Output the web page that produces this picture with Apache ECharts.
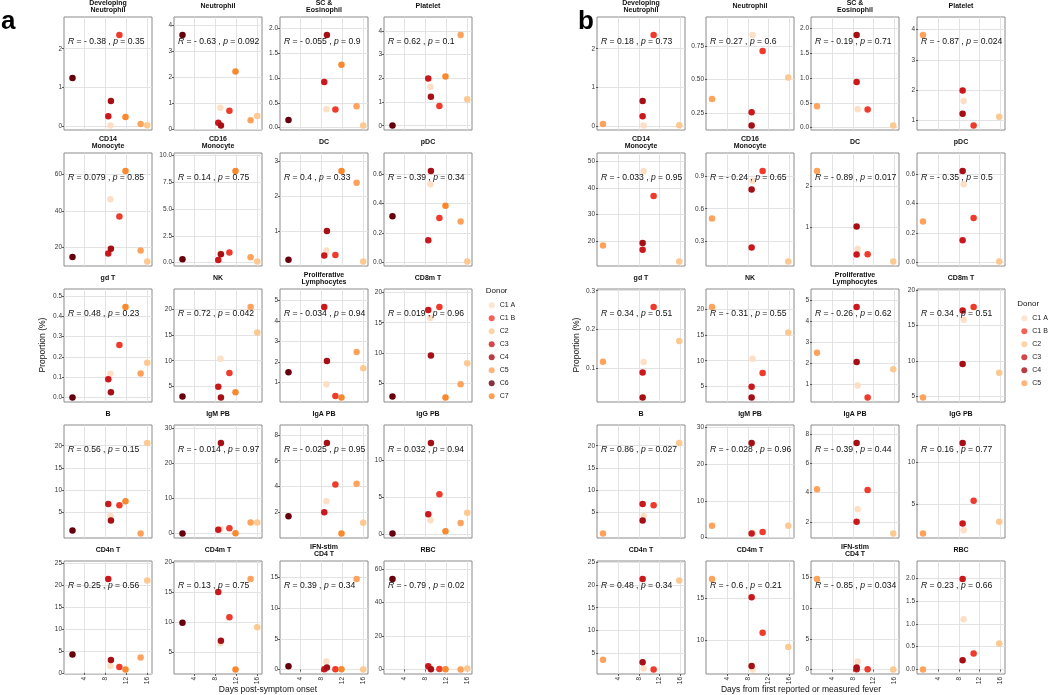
<!DOCTYPE html>
<html><head><meta charset="utf-8">
<script src="https://cdn.jsdelivr.net/npm/echarts@6/dist/echarts.min.js"></script>
<style>html,body{margin:0;padding:0;background:#fff}#c{width:1050px;height:695px}</style>
</head><body><div id="c"></div>
<script>
// ---------- data ----------
const donors = ['C1 A','C1 B','C2','C3','C4','C5','C6','C7'];
const donorColors = ['#FDDFC6','#EF3B2C','#FDC991','#CB181D','#A50F15','#FDA35E','#67000D','#F8892F'];
// x values: days post-symptom onset (panel a, all 8 donors) / days from first fever (panel b, C1 A..C5)
const daysOnset = [9.0, 10.7, 15.95, 8.6, 9.1, 14.7, 1.85, 11.85];
const daysFever = [8.9, 10.85, 15.85, 8.7, 8.7, 0.97];
const dayTicks = [4, 8, 12, 16];
const cellTypes = ['Developing\nNeutrophil','Neutrophil','SC &\nEosinophil','Platelet',
  'CD14\nMonocyte','CD16\nMonocyte','DC','pDC',
  'gd T','NK','Proliferative\nLymphocytes','CD8m T',
  'B','IgM PB','IgA PB','IgG PB',
  'CD4n T','CD4m T','IFN-stim\nCD4 T','RBC'];
// proportion (%), donors ordered C1 A, C1 B, C2, C3, C4, C5, C6, C7
const devNeut   = [0.03, 2.35, 0.035, 0.27, 0.66, 0.065, 1.25, 0.25];
const neutro    = [0.835, 0.715, 0.515, 0.255, 0.155, 0.355, 3.62, 2.22];
const scEos     = [0.37, 0.365, 0.04, 0.92, 1.87, 0.43, 0.15, 1.27];
const platelet  = [1.64, 0.83, 1.12, 1.99, 1.22, 3.82, 0.01, 2.07];
const cd14Mono  = [46.3, 36.9, 12.2, 16.6, 19.2, 18.2, 14.7, 61.8];
const cd16Mono  = [0.86, 0.95, 0.11, 0.24, 0.78, 0.51, 0.31, 8.52];
const dc        = [0.46, 0.33, 0.15, 0.32, 1.01, 2.38, 0.2, 2.71];
const pdc       = [0.53, 0.30, 0.005, 0.15, 0.62, 0.277, 0.312, 0.384];
const gdT       = [0.117, 0.258, 0.171, 0.09, 0.026, 0.118, 0.0, 0.445];
const nk        = [10.4, 7.6, 15.5, 4.9, 2.8, 20.5, 3.0, 3.8];
const prolif    = [0.92, 0.35, 1.70, 4.67, 2.05, 2.49, 1.51, 0.28];
const cd8mT     = [15.8, 17.6, 8.3, 17.1, 9.55, 4.8, 2.76, 2.6];
const bCell     = [4.2, 6.6, 20.6, 6.9, 3.2, 0.25, 0.9, 7.5];
const igmPB     = [1.3, 1.5, 3.2, 1.1, 25.7, 3.2, 0.05, 0.1];
const igaPB     = [2.85, 4.16, 1.2, 2.0, 7.37, 4.22, 1.69, 0.36];
const iggPB     = [1.9, 5.4, 2.9, 2.7, 12.3, 1.5, 0.1, 0.4];
const cd4nT     = [1.55, 1.32, 21.05, 21.35, 2.9, 3.5, 4.2, 0.77];
const cd4mT     = [6.55, 10.9, 9.2, 15.1, 6.95, 17.25, 9.97, 2.18];
const ifnCD4    = [1.3, 0.05, 0.02, 0.05, 0.35, 14.75, 0.55, 0.05];
const rbc       = [1.1, 0.35, 0.57, 1.98, 0.2, 0.0, 53.9, 0.1];
const proportions = [devNeut, neutro, scEos, platelet, cd14Mono, cd16Mono, dc, pdc,
  gdT, nk, prolif, cd8mT, bCell, igmPB, igaPB, iggPB, cd4nT, cd4mT, ifnCD4, rbc];
// correlation labels
const rOnset = ['- 0.38','- 0.63','- 0.055','0.62','0.079','0.14','0.4','- 0.39','0.48','0.72','- 0.034','0.019','0.56','- 0.014','- 0.025','0.032','0.25','0.13','0.39','- 0.79'];
const pOnset = ['0.35','0.092','0.9','0.1','0.85','0.75','0.33','0.34','0.23','0.042','0.94','0.96','0.15','0.97','0.95','0.94','0.56','0.75','0.34','0.02'];
const rFever = ['0.18','0.27','- 0.19','- 0.87','- 0.033','- 0.24','- 0.89','- 0.35','0.34','- 0.31','- 0.26','0.34','0.86','- 0.028','- 0.39','0.16','0.48','- 0.6','- 0.85','0.23'];
const pFever = ['0.73','0.6','0.71','0.024','0.95','0.65','0.017','0.5','0.51','0.55','0.62','0.51','0.027','0.96','0.44','0.77','0.34','0.21','0.034','0.66'];
// y tick values
const ticksOnset = [[0,1,2],[0,1,2,3,4],[0,0.5,1,1.5,2],[0,1,2,3,4],
  [20,40,60],[0,2.5,5,7.5,10],[1,2,3],[0,0.2,0.4,0.6],
  [0,0.1,0.2,0.3,0.4,0.5],[5,10,15,20],[1,2,3,4,5],[5,10,15,20],
  [5,10,15,20],[0,10,20,30],[2,4,6,8],[0,5,10],
  [0,5,10,15,20,25],[5,10,15,20],[0,5,10,15],[0,20,40,60]];
const ticksFever = [[0,1,2],[0.25,0.5,0.75],[0,0.5,1,1.5,2],[1,2,3,4],
  [20,30,40,50],[0.3,0.6,0.9],[1,2],[0,0.2,0.4,0.6],
  [0.1,0.2,0.3],[5,10,15,20],[1,2,3,4,5],[5,10,15,20],
  [5,10,15,20],[0,10,20,30],[2,4,6,8],[5,10],
  [5,10,15,20,25],[10,15],[0,5,10,15],[0,0.5,1,1.5,2]];

// ---------- layout ----------
const FONT = '"Liberation Sans", Arial, Helvetica, sans-serif';
const panels = [
  {days: daysOnset, n: 8, r: rOnset, p: pOnset, ticks: ticksOnset, lefts: [64,174,280,384], xmin: 0.25, xmax: 16.85,
   letter: 'a', letterX: 1, yTitleX: 43, xTitle: 'Days post-symptom onset', xTitleX: 268, legendX: 488.7, legendTop: 300.8, donorX: 485.7, donorY: 291},
  {days: daysFever, n: 6, r: rFever, p: pFever, ticks: ticksFever, lefts: [597,706,811,917], xmin: -0.2, xmax: 16.97,
   letter: 'b', letterX: 578, yTitleX: 577, xTitle: 'Days from first reported or measured fever', xTitleX: 801, legendX: 1021.3, legendTop: 313.8, donorX: 1017.3, donorY: 304}
];
const W = 88, H = 113, TOP0 = 17, PITCH = 136;

const grids = [], xAxes = [], yAxes = [], series = [], graphics = [], legends = [];
panels.forEach((P, pi) => {
  cellTypes.forEach((ct, k) => {
    const row = Math.floor(k / 4), col = k % 4;
    const left = P.lefts[col], top = TOP0 + PITCH * row;
    const gi = grids.length;
    grids.push({left, top, width: W, height: H, show: true, borderColor: '#8a8a8a', borderWidth: 1, backgroundColor: '#fff'});
    const vals = proportions[k].slice(0, P.n);
    const lo = Math.min(...vals), hi = Math.max(...vals), rg = hi - lo;
    const ticks = P.ticks[k];
    const dec = Math.max(...ticks.map(t => (String(t).split('.')[1] || '').length));
    yAxes.push({type: 'value', gridIndex: gi, min: lo - 0.05 * rg, max: hi + 0.2 * rg,
      axisLine: {show: false},
      axisTick: {show: true, length: 2, customValues: ticks, lineStyle: {color: '#333', width: 0.8}},
      axisLabel: {customValues: ticks, formatter: v => Number(v).toFixed(dec), fontSize: 6.5, color: '#333', margin: 2, fontFamily: FONT},
      splitLine: {show: true, lineStyle: {color: '#e0e0e0', width: 0.9}}});
    const bottomRow = row === 4;
    xAxes.push({type: 'value', gridIndex: gi, min: P.xmin, max: P.xmax,
      axisLine: {show: false},
      axisTick: {show: bottomRow, length: 2, customValues: dayTicks, lineStyle: {color: '#333', width: 0.8}},
      axisLabel: {show: bottomRow, customValues: dayTicks, rotate: 90, fontSize: 6.5, color: '#333', margin: 3, fontFamily: FONT},
      splitLine: {show: true, lineStyle: {color: '#e0e0e0', width: 0.9}}});
    series.push({type: 'scatter', xAxisIndex: gi, yAxisIndex: gi, symbolSize: 6.5, silent: true, z: 3,
      data: vals.map((v, d) => ({value: [P.days[d], v], itemStyle: {color: donorColors[d], opacity: 1}}))});
    // subplot title
    graphics.push({type: 'text', x: left + W / 2, y: top - 10.5, silent: true,
      style: {text: ct, fontSize: 7, fontWeight: 'bold', fontFamily: FONT, lineHeight: 7, align: 'center', verticalAlign: 'middle', fill: '#111'}});
    // correlation label
    graphics.push({type: 'text', x: left + 4, y: top + 24.5, silent: true, z: 10,
      style: {text: '{i|R} = ' + P.r[k] + ' , {i|p} = ' + P.p[k], fontSize: 8.6, fontFamily: FONT, align: 'left', verticalAlign: 'middle', fill: '#111',
        rich: {i: {fontStyle: 'italic', fontSize: 8.6, fontFamily: FONT, fill: '#111'}}}});
  });
  // panel letter, axis titles, legend title
  graphics.push({type: 'text', x: P.letterX, y: 22, silent: true,
    style: {text: P.letter, fontSize: 26, fontWeight: 'bold', fontFamily: FONT, align: 'left', verticalAlign: 'middle', fill: '#000'}});
  graphics.push({type: 'text', x: P.yTitleX, y: 345, rotation: Math.PI / 2, silent: true,
    style: {text: 'Proportion (%)', fontSize: 8.5, fontFamily: FONT, align: 'center', verticalAlign: 'middle', fill: '#111'}});
  graphics.push({type: 'text', x: P.xTitleX, y: 690, silent: true,
    style: {text: P.xTitle, fontSize: 8.5, fontFamily: FONT, align: 'center', verticalAlign: 'middle', fill: '#111'}});
  graphics.push({type: 'text', x: P.donorX, y: P.donorY, silent: true,
    style: {text: 'Donor', fontSize: 8, fontFamily: FONT, align: 'left', verticalAlign: 'middle', fill: '#111'}});
  legends.push({orient: 'vertical', left: P.legendX, top: P.legendTop, padding: 0, itemGap: 4, itemWidth: 6, itemHeight: 6,
    icon: 'circle', selectedMode: false, data: donors.slice(0, P.n),
    textStyle: {fontSize: 7, fontFamily: FONT, color: '#222', lineHeight: 9, padding: [0, 0, 0, 0]}});
});
// empty series used only for the legend keys
donors.forEach((d, i) => series.push({type: 'scatter', name: d, xAxisIndex: 0, yAxisIndex: 0, data: [], itemStyle: {color: donorColors[i]}}));

const chart = echarts.init(document.getElementById('c'), null, {renderer: 'canvas'});
chart.setOption({
  animation: false,
  backgroundColor: '#fff',
  textStyle: {fontFamily: FONT},
  grid: grids, xAxis: xAxes, yAxis: yAxes, series, legend: legends, graphic: graphics
});
</script></body></html>
